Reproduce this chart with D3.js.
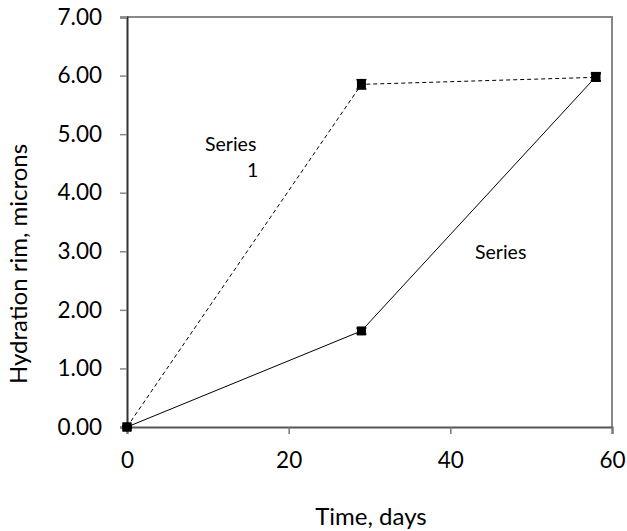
<!DOCTYPE html>
<html>
<head>
<meta charset="utf-8">
<script src="https://cdn.jsdelivr.net/npm/d3@7"></script>
<style>
  body { margin: 0; background: #fff; }
  text { font-family: Lato, "Open Sans", sans-serif; fill: #000; }
</style>
</head>
<body>
<div id="chart"></div>
<script>
// hydration rim vs time, two series with error bars

const days = [0, 29, 58];
const series1 = [0.00, 5.85, 5.97];   // dashed
const series1Err = [0.02, 0.08, 0.06];
const series2 = [0.00, 1.64, 5.98];   // solid
const series2Err = [0.02, 0.05, 0.07];
const xTicks = [0, 20, 40, 60];
const yTicks = [0, 1, 2, 3, 4, 5, 6, 7];

var width = 627, height = 531;
var margin = { top: 17, right: 15, bottom: 104, left: 127 };
var w = width - margin.left - margin.right;
var h = height - margin.top - margin.bottom;

const svg = d3.select("#chart").append("svg")
    .attr("width", width)
    .attr("height", height);

const g = svg.append("g")
    .attr("transform", "translate(" + margin.left + "," + margin.top + ")");

const x = d3.scaleLinear().domain([0, 60]).range([0, w]);
const y = d3.scaleLinear().domain([0, 7]).range([h, 0]);

// top and right frame
g.append("path")
    .attr("d", "M0,0H" + w + "V" + h)
    .attr("fill", "none")
    .attr("stroke", "#888")
    .attr("stroke-width", 2);

// x axis
var xAxis = g.append("g")
    .attr("transform", "translate(0," + h + ")")
    .call(d3.axisBottom(x).tickValues(xTicks).tickSize(7).tickPadding(18));
xAxis.select(".domain").attr("stroke", "#555").attr("stroke-width", 2);
xAxis.selectAll("line").attr("stroke", "#777").attr("stroke-width", 1.5);
xAxis.selectAll("text").style("font-size", "22.5px").attr("fill", "#000");

// y axis
var yAxis = g.append("g")
    .call(d3.axisLeft(y).tickValues(yTicks).tickSize(7).tickPadding(18)
        .tickFormat(d3.format(".2f")));
yAxis.select(".domain").attr("stroke", "#333").attr("stroke-width", 2);
yAxis.selectAll("line").attr("stroke", "#888").attr("stroke-width", 1.5);
yAxis.selectAll("text").style("font-size", "22.5px").attr("fill", "#000");

// lines
var line = d3.line().x((d, i) => x(days[i])).y(d => y(d));

g.append("path").datum(series1)
    .attr("d", line)
    .attr("fill", "none").attr("stroke", "#000")
    .attr("stroke-width", 1).attr("stroke-dasharray", "4,3");

g.append("path").datum(series2)
    .attr("d", line)
    .attr("fill", "none").attr("stroke", "#000")
    .attr("stroke-width", 1);

// markers + error bars
function drawMarkers(vals, errs) {
    var grp = g.append("g");
    vals.forEach(function (v, i) {
        var cx = x(days[i]), cy = y(v);
        grp.append("line")
            .attr("x1", cx).attr("x2", cx)
            .attr("y1", y(v - errs[i])).attr("y2", y(v + errs[i]))
            .attr("stroke", "#000").attr("stroke-width", 1.5);
        [v - errs[i], v + errs[i]].forEach(function (ev) {
            grp.append("line")
                .attr("x1", cx - 5).attr("x2", cx + 5)
                .attr("y1", y(ev)).attr("y2", y(ev))
                .attr("stroke", "#000").attr("stroke-width", 1.5);
        });
        grp.append("rect")
            .attr("x", cx - 4.5).attr("y", cy - 4.5)
            .attr("width", 9).attr("height", 9)
            .attr("fill", "#000");
    });
}
drawMarkers(series1, series1Err);
drawMarkers(series2, series2Err);

// series labels
g.append("text").attr("x", 78).attr("y", 134)
    .style("font-size", "19.5px").text("Series");
g.append("text").attr("x", 120).attr("y", 160)
    .style("font-size", "19.5px").text("1");
g.append("text").attr("x", 348).attr("y", 242)
    .style("font-size", "19.5px").text("Series");

// axis titles
svg.append("text")
    .attr("x", 371).attr("y", 525)
    .attr("text-anchor", "middle")
    .style("font-size", "24px")
    .text("Time, days");

svg.append("text")
    .attr("transform", "translate(27,264) rotate(-90)")
    .attr("text-anchor", "middle")
    .style("font-size", "24px")
    .text("Hydration rim, microns");
</script>
</body>
</html>
